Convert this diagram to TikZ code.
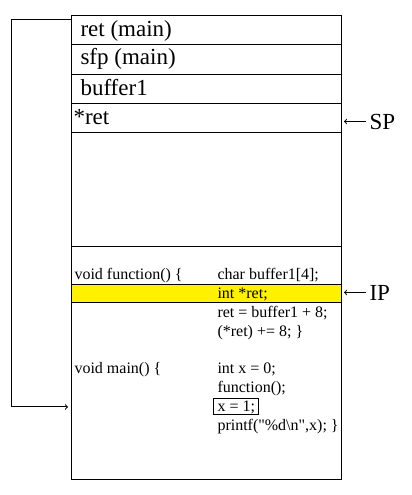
\documentclass[tikz,border=0pt]{standalone}
\usepackage{fontspec}
\setmainfont{Liberation Serif}
\usetikzlibrary{calc,positioning}
\tikzset{
  slot/.style={draw, line width=1pt, minimum width=270pt, minimum height=29pt, inner sep=0pt, outer sep=0pt},
  slottext/.style={anchor=base west, inner sep=0pt, font=\fontsize{23}{27}\selectfont},
  code/.style={anchor=base west, inner sep=0pt, font=\fontsize{16}{19}\selectfont},
}

\begin{document}
\begin{tikzpicture}[x=1pt, y=-1pt, line width=1pt]
	%%%%% START %%%%%
	\useasboundingbox (0,0) rectangle (412,495);
	
	% stack
	\node[slot, anchor=north west] (ret) at (71,16) {};
	\node[slot, below=0pt of ret] (sfp) {};
	\node[slot, below=0pt of sfp] (buf) {};
	\node[slot, below=0pt of buf] (star) {};
	\node[slot, below=0pt of star, minimum height=114pt] (free) {};
	
	\node[slottext] (tret) at (80,37) {ret (main)};
	\node[slottext] (tsfp) at (80,65) {sfp (main)};
	\node[slottext] (tbuf) at (80,95) {buffer1};
	\node[slottext] (tstar) at (73,124) {*ret};
	
	% code
	\node[slot, below=0pt of free, minimum height=233pt] (code) {};
	\node[slot, anchor=north west, fill=yellow, minimum height=18pt] (hl) at (71,284) {};
	
	\node[code] (f1) at (74,279) {void function() \{};
	\node[code] (c1) at (217,279) {char buffer1[4];};
	\node[code] (c2) at (217,298) {int *ret;};
	\node[code] (c3) at (217,317) {ret = buffer1 + 8;};
	\node[code] (c4) at (217,336) {(*ret) += 8; \}};
	
	\node[code] (f2) at (74,373) {void main() \{};
	\node[code] (c5) at (217,373) {int x = 0;};
	\node[code] (c6) at (217,392) {function();};
	\node[code, draw, inner xsep=4pt, inner ysep=1.5pt] (xone) at (213,411) {x = 1;};
	\node[code] (c7) at (217,430) {printf(\textquotedbl\%d\textbackslash n\textquotedbl,x); \}};
	
	% pointers
	\node[slottext] (sp) at (369,129) {SP};
	\node[slottext] (ip) at (369,300) {IP};
	\draw[->, shorten <=3pt, shorten >=3pt] (sp.west) -- (sp.west -| star.east);
	\draw[->, shorten <=3pt, shorten >=3pt] (ip.west) -- (ip.west -| hl.east);
	
	% return address
	\draw[->, shorten >=3pt] ($(ret.north west)+(0,4)$) -- ++(-60,0) |- (code.west |- xone);
	%%%%% END %%%%%
\end{tikzpicture}
\end{document}
